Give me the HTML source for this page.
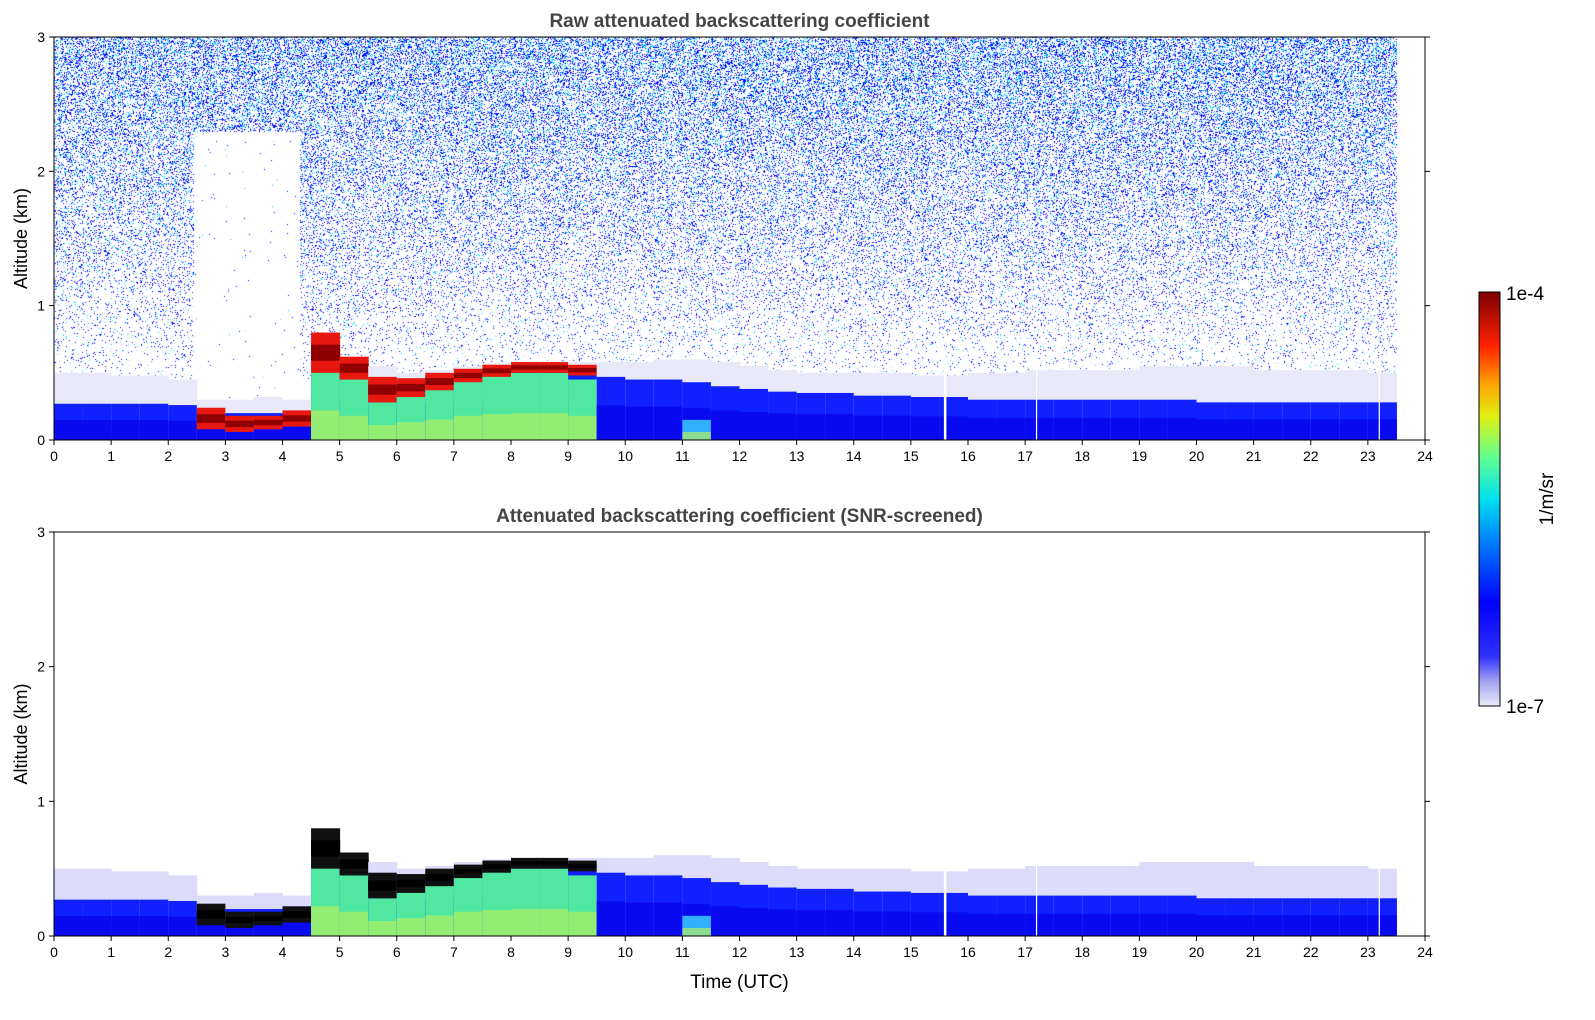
<!DOCTYPE html>
<html><head><meta charset="utf-8"><style>
body{margin:0;background:#fff;width:1595px;height:1020px;overflow:hidden;font-family:"Liberation Sans",sans-serif}
#wrap{position:relative;width:1595px;height:1020px}
canvas{position:absolute}
svg{position:absolute;left:0;top:0}
</style></head><body><div id="wrap">
<canvas id="noise" width="1371" height="403" style="left:54px;top:37px"></canvas>
<svg id="fig" width="1595" height="1020"></svg>
</div>
<script>
// half-hour bins starting at these times (hours UTC)
const binStarts=[0,0.5,1,1.5,2,2.5,3,3.5,4,4.5,5,5.5,6,6.5,7,7.5,8,8.5,9,9.5,10,10.5,11,11.5,12,12.5,13,13.5,14,14.5,15,15.5,16,16.5,17,17.5,18,18.5,19,19.5,20,20.5,21,21.5,22,22.5,23];
const hazeTop=[0.5,0.5,0.48,0.48,0.45,0.3,0.3,0.32,0.3,0.65,0.6,0.55,0.5,0.52,0.55,0.57,0.58,0.58,0.58,0.58,0.58,0.6,0.6,0.58,0.55,0.52,0.5,0.5,0.5,0.5,0.48,0.48,0.5,0.5,0.52,0.52,0.52,0.52,0.55,0.55,0.55,0.55,0.52,0.52,0.52,0.52,0.5];
const blueTop=[0.27,0.27,0.27,0.27,0.26,0.22,0.2,0.2,0.22,0.5,0.5,0.45,0.45,0.48,0.5,0.52,0.52,0.52,0.5,0.47,0.45,0.45,0.43,0.4,0.38,0.36,0.35,0.35,0.33,0.33,0.32,0.32,0.3,0.3,0.3,0.3,0.3,0.3,0.3,0.3,0.28,0.28,0.28,0.28,0.28,0.28,0.28];
const greenTop=[0,0,0,0,0,0,0,0,0,0.55,0.45,0.28,0.33,0.38,0.45,0.48,0.5,0.5,0.45,0,0,0,0.15,0,0,0,0,0,0,0,0,0,0,0,0,0,0,0,0,0,0,0,0,0,0,0,0];
const cloudBase=[0,0,0,0,0,0.08,0.06,0.08,0.1,0.5,0.45,0.28,0.32,0.37,0.43,0.47,0.5,0.5,0.48,0,0,0,0,0,0,0,0,0,0,0,0,0,0,0,0,0,0,0,0,0,0,0,0,0,0,0,0];
const cloudTop=[0,0,0,0,0,0.24,0.18,0.18,0.22,0.8,0.62,0.47,0.46,0.5,0.53,0.56,0.58,0.58,0.56,0,0,0,0,0,0,0,0,0,0,0,0,0,0,0,0,0,0,0,0,0,0,0,0,0,0,0,0];
const xTicks=[0,1,2,3,4,5,6,7,8,9,10,11,12,13,14,15,16,17,18,19,20,21,22,23,24];
const yTicks=[0,1,2,3];
const gapTimes=[15.6,17.2,23.2];

const NS="http://www.w3.org/2000/svg";
const svg=document.getElementById('fig');
function el(tag,attrs,parent){const e=document.createElementNS(NS,tag);for(const k in attrs)e.setAttribute(k,attrs[k]);(parent||svg).appendChild(e);return e;}
const X0=54,X1=1425;
const xs=t=>X0+t*(X1-X0)/24;
const panels=[{top:37,bot:440,title:"Raw attenuated backscattering coefficient",raw:true,xl:false},
{top:532,bot:936,title:"Attenuated backscattering coefficient (SNR-screened)",raw:false,xl:true}];

// noise for raw panel (decorative texture)
(function(){const c=document.getElementById('noise').getContext('2d');let a=987654321;
const r=()=>{a|=0;a=a+0x6D2B79F5|0;let t=Math.imul(a^a>>>15,1|a);t=t+Math.imul(t^t>>>7,61|t)^t;return((t^t>>>14)>>>0)/4294967296;};
const W=1371,H=403;
for(let py=0;py<H;py++){const h=3*(1-py/H);for(let px=0;px<W;px++){const t=px/W*24;if(t>23.5)continue;
let p=h<0.45?0:Math.min(0.4,0.03+(h-0.45)*0.13);if(t>2.45&&t<4.3&&h<2.3)p=0.004;
if(r()<p){const v=r();const cy=0.08+h*0.08;let col=v<0.62?'#0000ff':v<0.62+cy?'#00c8ff':v<0.7+cy?'#30f0d0':'#2828ff';if(h<1&&v>0.85)col='#c8c8f4';c.fillStyle=col;c.fillRect(px,py,1,1);}}}})();

panels.forEach((P,pi)=>{
 const g=el('g',{},svg);
 const ys=h=>P.bot-h*(P.bot-P.top)/3;
 const bw=xs(0.5)-xs(0);
 binStarts.forEach((t,i)=>{
  const x=xs(t);
  let r=el('rect',{x:x,y:ys(hazeTop[i]),width:bw+0.5,height:ys(0)-ys(hazeTop[i]),fill:P.raw?'#e8e8f8':'#dcdcfa'},g);
  r=el('rect',{x:x,y:ys(blueTop[i]),width:bw+0.5,height:ys(0)-ys(blueTop[i]),fill:'#1020ff'},g);
  r=el('rect',{x:x,y:ys(blueTop[i]*0.55),width:bw+0.5,height:ys(0)-ys(blueTop[i]*0.55),fill:'#0a0af0'},g);
  if(greenTop[i]>0){r=el('rect',{x:x,y:ys(greenTop[i]),width:bw+0.5,height:ys(0)-ys(greenTop[i]),fill:t<11?'#50e8a0':'#30b0ff'},g);
   r=el('rect',{x:x,y:ys(greenTop[i]*0.4),width:bw+0.5,height:ys(0)-ys(greenTop[i]*0.4),fill:'#b0f060',opacity:0.7},g);}
  if(cloudTop[i]>0){const h=ys(cloudBase[i])-ys(cloudTop[i]);
   r=el('rect',{x:x,y:ys(cloudTop[i]),width:bw+0.5,height:h,fill:P.raw?'#e81810':'#101010'},g);
   r=el('rect',{x:x,y:ys(cloudTop[i])+h*0.3,width:bw+0.5,height:h*0.4,fill:P.raw?'#900000':'#000'},g);}
 });
 gapTimes.forEach(t=>{const l=el('line',{x1:xs(t),x2:xs(t),y1:ys(0.6),y2:ys(0),stroke:'#fff','stroke-width':t==15.6?2.5:1.2},g);});
 const fr=el('rect',{x:X0,y:P.top,width:X1-X0,height:P.bot-P.top,fill:'none',stroke:'#000','stroke-width':1},g);
 xTicks.forEach(t=>{el('line',{x1:xs(t),x2:xs(t),y1:P.bot,y2:P.bot+5,stroke:'#000'},g);
  const tx=el('text',{x:xs(t),y:P.bot+21,'text-anchor':'middle','font-size':14},g);tx.textContent=t;});
 yTicks.forEach(v=>{el('line',{x1:X0-5,x2:X0,y1:ys(v),y2:ys(v),stroke:'#000'},g);el('line',{x1:X1,x2:X1+5,y1:ys(v),y2:ys(v),stroke:'#000'},g);
  const tx=el('text',{x:X0-9,y:ys(v)+5,'text-anchor':'end','font-size':14},g);tx.textContent=v;});
 const ti=el('text',{x:(X0+X1)/2,y:P.top-10,'text-anchor':'middle','font-size':19,'font-weight':'bold',fill:'#444'},g);ti.textContent=P.title;
 const yl=el('text',{x:0,y:0,transform:`translate(27,${(P.top+P.bot)/2}) rotate(-90)`,'text-anchor':'middle','font-size':18},g);yl.textContent='Altitude (km)';
 if(P.xl){const xl=el('text',{x:(X0+X1)/2,y:988,'text-anchor':'middle','font-size':19},g);xl.textContent='Time (UTC)';}
});
// colorbar
const defs=el('defs',{});const lg=el('linearGradient',{id:'jet',x1:0,y1:1,x2:0,y2:0},defs);
[[0,'#ececfa'],[0.06,'#a0a0f0'],[0.12,'#3030ff'],[0.25,'#0000ff'],[0.38,'#0070ff'],[0.5,'#00e0f0'],[0.6,'#60ff90'],[0.7,'#e0f010'],[0.78,'#ffa000'],[0.87,'#ff2000'],[1,'#800000']].forEach(s=>el('stop',{offset:s[0],'stop-color':s[1]},lg));
const cb=el('rect',{x:1479,y:292,width:21,height:414,fill:'url(#jet)',stroke:'#000'});
let t1=el('text',{x:1506,y:300,'font-size':19});t1.textContent='1e-4';
let t2=el('text',{x:1506,y:713,'font-size':19});t2.textContent='1e-7';
let t3=el('text',{x:0,y:0,transform:'translate(1553,499) rotate(-90)','text-anchor':'middle','font-size':19});t3.textContent='1/m/sr';
</script></body></html>
